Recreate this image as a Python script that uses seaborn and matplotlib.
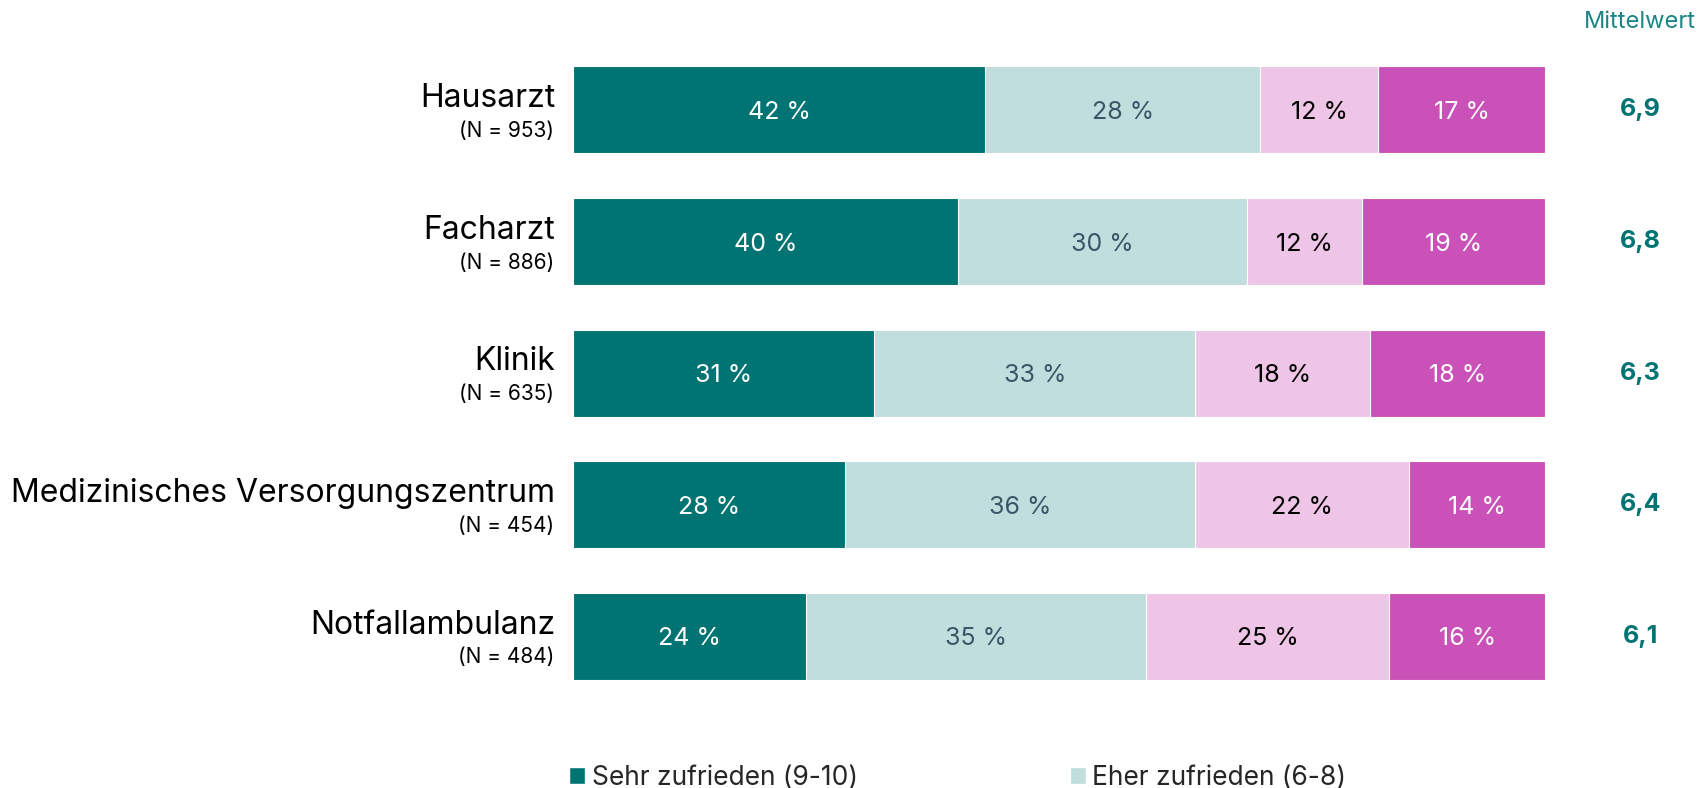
import numpy as np
import pandas as pd
import matplotlib
import matplotlib.pyplot as plt
import seaborn as sns
from matplotlib.patches import Patch

matplotlib.use('Agg')

# Data
categories = ["Hausarzt", "Facharzt", "Klinik", "Medizinisches Versorgungszentrum", "Notfallambulanz"]
n_labels = ["(N = 953)", "(N = 886)", "(N = 635)", "(N = 454)", "(N = 484)"]
sehr_zufrieden = [42, 40, 31, 28, 24]
eher_zufrieden = [28, 30, 33, 36, 35]
eher_unzufrieden = [12, 12, 18, 22, 25]
unzufrieden = [17, 19, 18, 14, 16]
mittelwert = ["6,9", "6,8", "6,3", "6,4", "6,1"]

segments = [sehr_zufrieden, eher_zufrieden, eher_unzufrieden, unzufrieden]
colors = ["#007472", "#bfdedd", "#eec5e6", "#c951b8"]
text_colors = ["white", "#3b5566", "black", "white"]
legend_labels = ["Sehr zufrieden (9-10)", "Eher zufrieden (6-8)"]

sns.set_theme(style="white")
plt.rcParams['font.family'] = ['Inter', 'DejaVu Sans']

vals = np.array(segments, dtype=float)
vals = vals / vals.sum(axis=0) * 100  # each row fills the bar
cum = np.cumsum(vals, axis=0)

fig = plt.figure(figsize=(17.03, 7.88), dpi=100)
ax = fig.add_axes([0.3365, 0.109, 0.5707, 0.835])

# stacked bars: draw the longest cumulative first, shorter on top
for k in range(len(segments) - 1, -1, -1):
    df = pd.DataFrame({"cat": categories, "val": cum[k]})
    sns.barplot(data=df, x="val", y="cat", color=colors[k], orient="h",
                width=0.66, saturation=1, ax=ax, edgecolor="white", linewidth=0.8)

# percentage labels
for k in range(len(segments)):
    for i, cat in enumerate(categories):
        mid = cum[k][i] - vals[k][i] / 2
        ax.text(mid, i + 0.02, f"{segments[k][i]} %", ha="center", va="center",
                fontsize=18, color=text_colors[k])

ax.set_xlim(0, 100)
ax.set_ylim(len(categories) - 0.5, -0.5)
ax.set_xlabel("")
ax.set_ylabel("")
ax.set_xticks([])
ax.set_yticks([])
for s in ax.spines.values():
    s.set_visible(False)

# category labels with N underneath
tr = ax.get_yaxis_transform()
for i, cat in enumerate(categories):
    ax.text(-0.0185, i - 0.085, cat, transform=tr, ha="right", va="center",
            fontsize=23, color="black")
    ax.text(-0.0195, i + 0.16, n_labels[i], transform=tr, ha="right", va="center",
            fontsize=15, color="black")
    ax.text(1.098, i, mittelwert[i], transform=tr, ha="center", va="center",
            fontsize=18, fontweight="bold", color="#007472")

ax.text(1.098, -0.67, "Mittelwert", transform=tr, ha="center", va="center",
        fontsize=17, color="#1a8584")

handles = [Patch(facecolor=colors[0]), Patch(facecolor=colors[1])]
fig.legend(handles, legend_labels, loc="center left", bbox_to_anchor=(0.328, 0.013),
           ncol=2, frameon=False, fontsize=19, handlelength=0.6, handleheight=0.6,
           handletextpad=0.25, columnspacing=8.05, borderaxespad=0)

fig.savefig("out.png", dpi=100)
